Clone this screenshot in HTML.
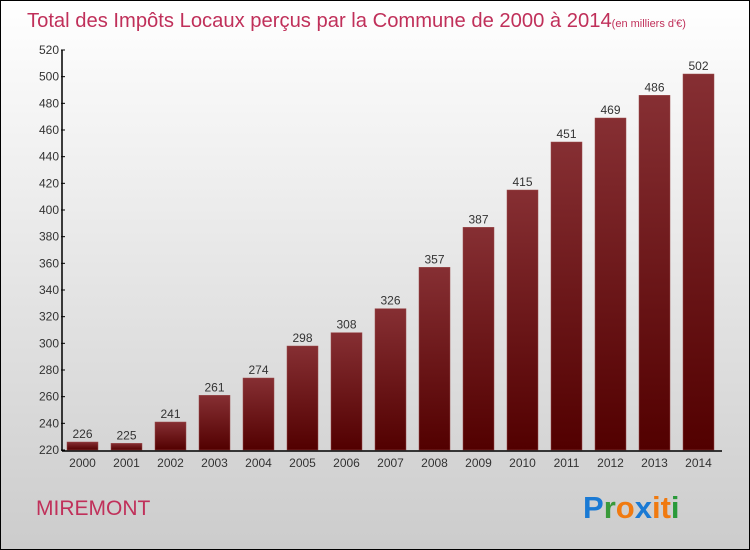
<!DOCTYPE html>
<html><head><meta charset="utf-8"><style>
body{margin:0}
#c{width:748px;height:548px;border:1px solid #000;background:linear-gradient(#fff,#ccc);position:relative;font-family:"Liberation Sans",sans-serif;overflow:hidden}
</style></head><body>
<div id="c">
<svg width="748" height="548" id="svg">
<defs><linearGradient id="bg" x1="0" y1="0" x2="0" y2="1"><stop offset="0" stop-color="#862f33"/><stop offset="1" stop-color="#520000"/></linearGradient></defs>
<text x="26" y="26" font-size="20.2" fill="#c0305a">Total des Impôts Locaux perçus par la Commune de 2000 à 2014<tspan font-size="11">(en milliers d'€)</tspan></text>
<text x="35" y="514" font-size="21" fill="#c0305a">MIREMONT</text>
<text x="582" y="517" font-size="31" font-weight="bold"><tspan fill="#1a7ad4">P</tspan><tspan fill="#3a9a3a">r</tspan><tspan fill="#f07a10">o</tspan><tspan fill="#1a7ad4">x</tspan><tspan fill="#f07a10">i</tspan><tspan fill="#f07a10">t</tspan><tspan fill="#2a9a3a">i</tspan></text>
<g id="g"></g>
</svg></div>
<script>
const years=["2000","2001","2002","2003","2004","2005","2006","2007","2008","2009","2010","2011","2012","2013","2014"];
const values=[226,225,241,261,274,298,308,326,357,387,415,451,469,486,502];
const ticks=[220,240,260,280,300,320,340,360,380,400,420,440,460,480,500,520];
const yMin=220,yMax=520;
const y=v=>449-(v-yMin)*(400/(yMax-yMin));
const x=i=>66+i*44;
const NS="http://www.w3.org/2000/svg",g=document.getElementById('g');
function mk(t,a,txt){const e=document.createElementNS(NS,t);for(const k in a)e.setAttribute(k,a[k]);if(txt!=null)e.textContent=txt;g.appendChild(e);return e;}
values.forEach((v,i)=>{
 const r=mk('rect',{x:x(i),y:y(v),width:31,height:449-y(v),fill:'url(#bg)',stroke:'#9a4a4a','stroke-width':0.5});
 
 
 const t=mk('text',{x:x(i)+15.5,y:y(v)-4,'font-size':12,fill:'#333','text-anchor':'middle'},String(v));
 
 
 const l=mk('text',{x:x(i)+15.5,y:466,'font-size':12,fill:'#333','text-anchor':'middle'},years[i]);
 
 
});
ticks.forEach(t=>{
 const l=mk('line',{x1:60,x2:64,y1:y(t),y2:y(t),stroke:'#000'});
 
 
 const tx=mk('text',{x:58,y:y(t)+4,'font-size':12,fill:'#333','text-anchor':'end'},String(t));
 
 
});
const ya=mk('line',{x1:61,x2:61,y1:49,y2:450,stroke:'#000','stroke-width':1.5});


const xa=mk('line',{x1:61,x2:721,y1:450,y2:450,stroke:'#000','stroke-width':1.5});


</script>
</body></html>
